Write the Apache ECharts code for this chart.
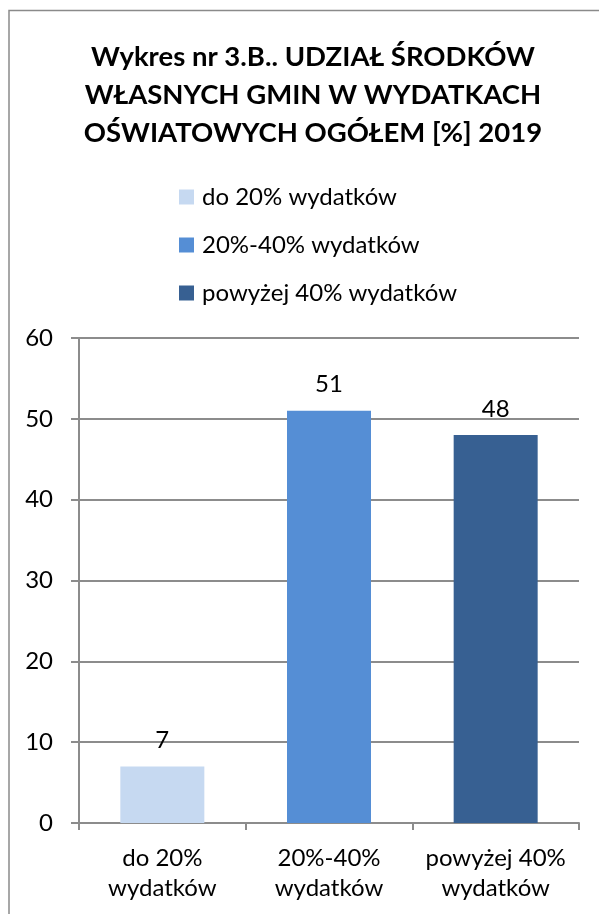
<!DOCTYPE html>
<html>
<head>
<meta charset="utf-8">
<script src="https://cdn.jsdelivr.net/npm/echarts@6/dist/echarts.min.js"></script>
<style>
  html, body { margin: 0; padding: 0; background: #fff; }
  #chart { width: 599px; height: 914px; }
</style>
</head>
<body>
<div id="chart"></div>
<script>
// dane wykresu
const categories = ["do 20%\nwydatków", "20%-40%\nwydatków", "powyżej 40%\nwydatków"];
const seriesNames = ["do 20% wydatków", "20%-40% wydatków", "powyżej 40% wydatków"];
const values = [7, 51, 48];
const colors = ["#C6D9F1", "#558ED5", "#376092"];
const yTicks = [0, 10, 20, 30, 40, 50, 60];

const FONT = "Lato";
const TXT = 24;
const gridColor = "#8c8c8c";

const chart = echarts.init(document.getElementById("chart"));

// każda kategoria jako osobna seria, żeby legenda pokazywała trzy pozycje
const series = seriesNames.map((name, i) => ({
  name,
  type: "bar",
  barWidth: 84,
  barGap: "-100%",
  data: values.map((v, j) => (j === i ? v : "-")),
  itemStyle: { color: colors[i] },
  label: {
    show: true,
    position: "top",
    distance: 14,
    color: "#000",
    fontFamily: FONT,
    fontSize: TXT
  }
}));

const option = {
  animation: false,
  color: colors,
  title: {
    text: "Wykres nr 3.B.. UDZIAŁ ŚRODKÓW\nWŁASNYCH GMIN W WYDATKACH\nOŚWIATOWYCH OGÓŁEM [%] 2019",
    left: 308,
    top: 33,
    textAlign: "center",
    textStyle: {
      fontFamily: FONT,
      fontWeight: "bold",
      fontSize: 27.5,
      lineHeight: 38,
      color: "#000"
    }
  },
  legend: {
    orient: "vertical",
    left: 174,
    top: 180,
    itemWidth: 15,
    itemHeight: 15,
    itemGap: 24,
    icon: "rect",
    data: seriesNames,
    textStyle: {
      fontFamily: FONT,
      fontSize: TXT,
      lineHeight: 24,
      color: "#000",
      padding: [0, 0, 0, 3]
    }
  },
  grid: { left: 79, right: 20, top: 338, bottom: 91 },
  xAxis: {
    type: "category",
    data: categories,
    axisLine: { lineStyle: { color: gridColor, width: 2 } },
    axisTick: { show: true, length: 7, lineStyle: { color: gridColor, width: 2 } },
    axisLabel: {
      interval: 0,
      margin: 20,
      fontFamily: FONT,
      fontSize: TXT,
      lineHeight: 30,
      color: "#000"
    }
  },
  yAxis: {
    type: "value",
    min: yTicks[0],
    max: yTicks[yTicks.length - 1],
    interval: 10,
    axisLine: { show: true, lineStyle: { color: gridColor, width: 2 } },
    axisTick: { show: true, length: 8, lineStyle: { color: gridColor, width: 2 } },
    splitLine: { lineStyle: { color: gridColor, width: 2 } },
    axisLabel: {
      margin: 26,
      fontFamily: FONT,
      fontSize: TXT,
      color: "#000"
    }
  },
  graphic: [{
    type: "rect",
    shape: { x: 9, y: 10.5, width: 620, height: 930 },
    style: { fill: "none", stroke: "#8a8a8a", lineWidth: 1.5 },
    silent: true
  }],
  series
};

chart.setOption(option);
</script>
</body>
</html>
